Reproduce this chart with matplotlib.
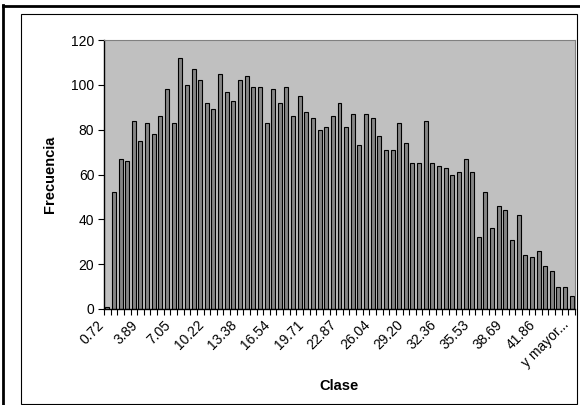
import matplotlib
matplotlib.use("Agg")
import matplotlib.pyplot as plt
import matplotlib.transforms as mtransforms
from matplotlib.lines import Line2D
from matplotlib.patches import Rectangle

plt.rcParams['font.family'] = ['Liberation Sans', 'DejaVu Sans']

# Frecuencias por clase (la ultima es "y mayor...")
frecuencia = [1, 52, 67, 66, 84, 75, 83, 78, 86, 98,
              83, 112, 100, 107, 102, 92, 89, 105, 97, 93,
              102, 104, 99, 99, 83, 98, 92, 99, 86, 95,
              88, 85, 80, 81, 86, 92, 81, 87, 73, 87,
              85, 77, 71, 71, 83, 74, 65, 65, 84, 65,
              64, 63, 60, 61, 67, 61, 32, 52, 36, 46,
              44, 31, 42, 24, 23, 26, 19, 17, 10, 10,
              6]
etiquetas = ["0.72", "3.89", "7.05", "10.22", "13.38", "16.54", "19.71",
             "22.87", "26.04", "29.20", "32.36", "35.53", "38.69", "41.86",
             "y mayor..."]
paso_etiqueta = 5

W, H = 580, 405
fig = plt.figure(figsize=(W / 100, H / 100), dpi=100)
fig.patch.set_facecolor('white')

# marco exterior y borde del area del grafico
fig.add_artist(Line2D([3 / W, 3 / W], [0, 1 - 5 / H], color='black', lw=2))
fig.add_artist(Line2D([3 / W, 1], [1 - 6 / H, 1 - 6 / H], color='black', lw=2))
fig.add_artist(Rectangle((21 / W, 1 / H), 556 / W, 1 - 15 / H, fill=False,
                         edgecolor='black', lw=0.8))

ax = fig.add_axes([104 / W, 1 - 309 / H, 471 / W, 269 / H])
ax.set_facecolor('#c0c0c0')

x = list(range(len(frecuencia)))
ax.bar(x, frecuencia, width=0.6, color='#858585', edgecolor='black', linewidth=0.8)

ax.set_xlim(-0.5, len(frecuencia) - 0.5)
ax.set_ylim(0, 120)
ax.set_yticks(range(0, 121, 20))
ax.tick_params(axis='y', direction='out', length=4, width=0.8, labelsize=10, pad=3)

pos = [i * paso_etiqueta for i in range(len(etiquetas))]
ax.set_xticks(pos)
ax.set_xticklabels(etiquetas, rotation=45, ha='right', va='top',
                   rotation_mode='anchor', fontsize=10)
ax.tick_params(axis='x', length=0, pad=5)
ax.set_xticks([i - 0.5 for i in range(len(frecuencia) + 1)], minor=True)
ax.tick_params(axis='x', which='minor', direction='out', length=4, width=0.8)

# las etiquetas giradas quedan un poco a la izquierda de su clase
desplaza = mtransforms.ScaledTranslation(-0.10, -0.02, fig.dpi_scale_trans)
for lbl in ax.get_xticklabels():
    lbl.set_transform(lbl.get_transform() + desplaza)

for lado in ['top', 'right']:
    ax.spines[lado].set_color('#808080')
    ax.spines[lado].set_linewidth(0.8)
for lado in ['left', 'bottom']:
    ax.spines[lado].set_color('black')
    ax.spines[lado].set_linewidth(1)

ax.set_xlabel('Clase', fontsize=10.5, fontweight='bold', labelpad=6)
ax.set_ylabel('Frecuencia', fontsize=10.5, fontweight='bold', labelpad=10)

fig.savefig('out.png', dpi=100)
